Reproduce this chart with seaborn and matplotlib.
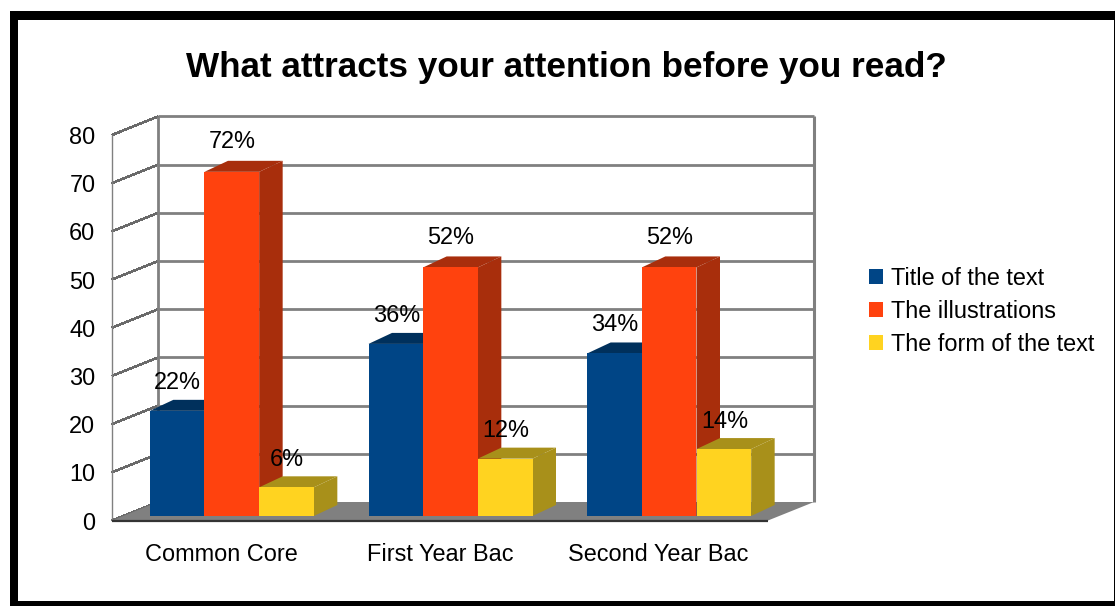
import matplotlib
matplotlib.use("Agg")
import matplotlib.pyplot as plt
import pandas as pd
import seaborn as sns
from matplotlib.lines import Line2D
from matplotlib.patches import Polygon, Rectangle
from matplotlib.transforms import Affine2D, IdentityTransform

categories = ["Common Core", "First Year Bac", "Second Year Bac"]
series_names = ["Title of the text", "The illustrations", "The form of the text"]
title_values = [22, 36, 34]
illustration_values = [72, 52, 52]
form_values = [6, 12, 14]
front_colors = ["#004586", "#ff420e", "#ffd320"]
side_colors = ["#00305c", "#a82e0c", "#a8901a"]
y_ticks = [0, 10, 20, 30, 40, 50, 60, 70, 80]
title_text = "What attracts your attention before you read?"

W, H = 1115, 606
FONT = "Liberation Sans"
TXT = 16.9

df = pd.DataFrame({
    "category": categories * 3,
    "series": [s for s in series_names for _ in categories],
    "value": title_values + illustration_values + form_values,
})

sns.set_style("white")
plt.rcParams["font.family"] = FONT
fig = plt.figure(figsize=(W / 100, H / 100), dpi=100, facecolor="white")


def fx(px):
    return px / W


def fy(py):
    return 1 - py / H


fig.add_artist(Rectangle((fx(10), fy(606)), fx(1105), 595 / H, transform=fig.transFigure,
                         fc="black", ec="none", zorder=-5))
fig.add_artist(Rectangle((fx(18), fy(601)), fx(1096), 581 / H, transform=fig.transFigure,
                         fc="white", ec="none", zorder=-4))

ax = fig.add_axes([fx(112), fy(520.5), fx(656), 385.5 / H])
ax.patch.set_alpha(0)
sns.barplot(data=df, x="category", y="value", hue="series", order=categories,
            hue_order=series_names, palette=front_colors, width=0.75, gap=0,
            saturation=1, ax=ax, zorder=20, edgecolor="none", linewidth=0)
ax.set_xlim(-0.5, 2.5)
ax.set_ylim(0, 80)
ax.set_xlabel("")
ax.set_ylabel("")
ax.set_yticks(y_ticks)
ax.tick_params(axis="y", length=0, pad=12, labelsize=TXT, colors="black")
ax.tick_params(axis="x", length=0, pad=16.5, labelsize=TXT, colors="black")
for s in ax.spines.values():
    s.set_visible(False)

DX, DY = 46, 18.5
ident = IdentityTransform()


def px(x, y, ox=0.0, oy=0.0):
    a, b = ax.transData.transform((x, y))
    return a + ox, b + oy


def seg(p, q, color, lw, z, aa=True):
    ax.add_line(Line2D([p[0], q[0]], [p[1], q[1]], transform=ident, color=color, lw=lw,
                       zorder=z, antialiased=aa, clip_on=False, solid_capstyle="butt"))


# floor
ax.add_patch(Polygon([px(-0.5, 0), px(2.5, 0), px(2.5, 0, DX, DY), px(-0.5, 0, DX, DY)],
                     closed=True, transform=ident, fc="#808080", ec="none", zorder=2, clip_on=False))
seg(px(-0.5, 0), px(2.5, 0), "#333333", 1.6, 3)

# walls and grid
for t in y_ticks:
    if t > 0:
        seg(px(-0.5, t, DX, DY), px(2.5, t, DX, DY), "#808080", 2.0, 1)
    seg(px(-0.5, t), px(-0.5, t, DX, DY), "#6a6a6a", 1.1, 1, aa=False)
seg(px(-0.5, 0), px(-0.5, 80), "#808080", 1.0, 1)
seg(px(-0.5, 0, DX, DY), px(-0.5, 80, DX, DY), "#808080", 2.0, 1)
seg(px(2.5, 0, DX, DY), px(2.5, 80, DX, DY), "#808080", 2.2, 1)

# bars with side and top faces
base_y = ax.transData.transform((0, 0))[1]
F_X, F_Y, B_X, B_Y = 10.5, 4.5, 34, 15.5
SHRINK = 0.992
front_tf = Affine2D().translate(0, -base_y).scale(1, SHRINK).translate(F_X, base_y + F_Y)

for i, cont in enumerate(ax.containers):
    for j, bar in enumerate(cont.patches):
        z = 10 + j * 10 + i * 2
        bar.set_transform(ax.transData + front_tf)
        bar.set_zorder(z + 1)
        bar.set_clip_on(False)
        x0, x1 = bar.get_x(), bar.get_x() + bar.get_width()
        v = bar.get_height()
        fl = px(x0, 0, F_X, F_Y)
        fr = px(x1, 0, F_X, F_Y)
        top = v * SHRINK
        ftl = px(x0, top, F_X, F_Y)
        ftr = px(x1, top, F_X, F_Y)
        shift = (B_X - F_X, B_Y - F_Y)
        btl = (ftl[0] + shift[0], ftl[1] + shift[1])
        btr = (ftr[0] + shift[0], ftr[1] + shift[1])
        brr = (fr[0] + shift[0], fr[1] + shift[1])
        ax.add_patch(Polygon([fr, ftr, btr, brr], closed=True, transform=ident,
                             fc=side_colors[i], ec="none", zorder=z, clip_on=False))
        ax.add_patch(Polygon([ftl, ftr, btr, btl], closed=True, transform=ident,
                             fc=side_colors[i], ec="none", zorder=z, clip_on=False))
        ax.annotate(f"{v:g}%", xy=((x0 + x1) / 2, v), xytext=(11, 32),
                    textcoords="offset pixels", ha="center", va="center",
                    fontsize=TXT, color="black", zorder=100, annotation_clip=False)

# legend
handles, labels = ax.get_legend_handles_labels()
if ax.get_legend() is not None:
    ax.get_legend().remove()
ax.legend(handles, labels, loc="upper left", bbox_to_anchor=(fx(869), fy(267)),
          bbox_transform=fig.transFigure, frameon=False, fontsize=TXT, borderpad=0,
          borderaxespad=0, handlelength=0.6, handleheight=0.6, handletextpad=0.34,
          labelspacing=0.43, labelcolor="black")

fig.text(fx(566), fy(67), title_text, ha="center", va="center", fontsize=25.3,
         fontweight="bold", color="black")

fig.savefig("out.png", dpi=100, facecolor="white")
